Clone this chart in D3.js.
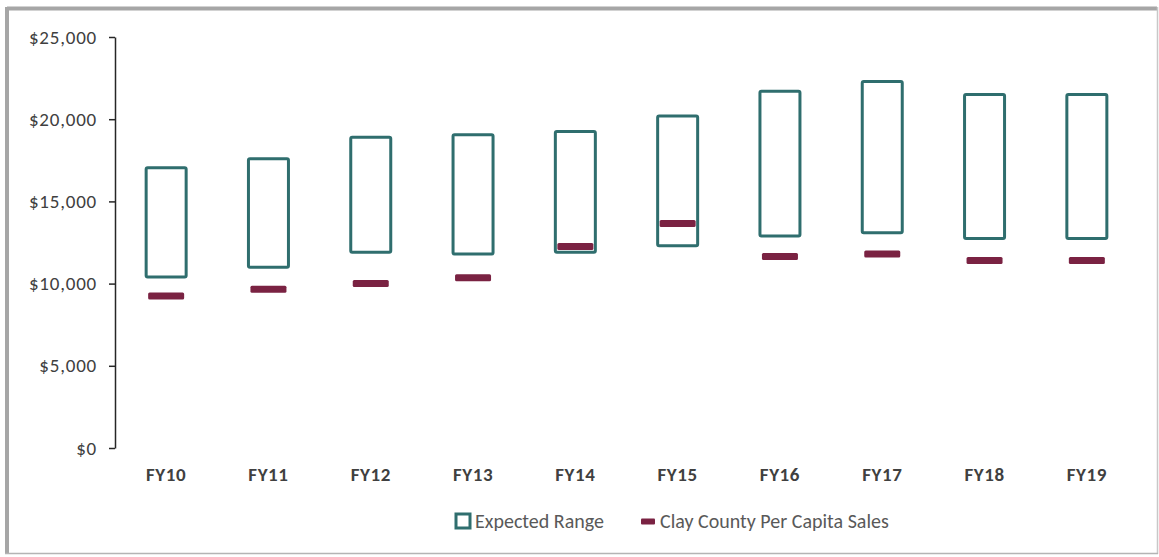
<!DOCTYPE html>
<html>
<head>
<meta charset="utf-8">
<script src="https://cdn.jsdelivr.net/npm/d3@7"></script>
<style>
  html, body { margin: 0; padding: 0; background: #fff; }
  svg { display: block; font-family: Carlito, Lato, "Open Sans", sans-serif; }
</style>
</head>
<body>
<svg id="chart" width="1159" height="557"></svg>
<script>
// ---- data ----
const categories = ["FY10","FY11","FY12","FY13","FY14","FY15","FY16","FY17","FY18","FY19"];
const rangeLow  = [10400, 11000, 11900, 11800, 11900, 12300, 12900, 13100, 12750, 12750];
const rangeHigh = [17050, 17600, 18900, 19050, 19250, 20200, 21700, 22300, 21500, 21500];
const perCapita = [9250, 9650, 10000, 10350, 12250, 13650, 11650, 11800, 11400, 11400];
const yTicks = [0, 5000, 10000, 15000, 20000, 25000];
const seriesNames = ["Expected Range", "Clay County Per Capita Sales"];

const teal = "#2f6e6e", maroon = "#7a2242";
const FONT = "Carlito, Lato, sans-serif";

const svg = d3.select("#chart");
const W = 1159, H = 557;

// frame
svg.append("rect").attr("x", 0).attr("y", 0).attr("width", W).attr("height", H).attr("fill", "#fff");
svg.append("line").attr("x1", 7).attr("x2", 1157).attr("y1", 8.5).attr("y2", 8.5).attr("stroke", "#a6a6a6").attr("stroke-width", 4);
svg.append("line").attr("x1", 7).attr("x2", 7).attr("y1", 7).attr("y2", 554).attr("stroke", "#a6a6a6").attr("stroke-width", 4);
svg.append("line").attr("x1", 1157.5).attr("x2", 1157.5).attr("y1", 7).attr("y2", 554).attr("stroke", "#c8c8c8").attr("stroke-width", 1.5);
svg.append("line").attr("x1", 5).attr("x2", 1158).attr("y1", 553.5).attr("y2", 553.5).attr("stroke", "#b4b4b4").attr("stroke-width", 1.5);

const x = d3.scaleBand().domain(categories).range([115, 1138]).padding(0);
const y = d3.scaleLinear().domain([0, 25000]).range([448, 37]);

// y axis
const fmt = d3.format(",");
const yAxis = d3.axisLeft(y).tickValues(yTicks).tickFormat(d => "$" + fmt(d)).tickSize(6).tickSizeOuter(0).tickPadding(12);
const gy = svg.append("g").attr("transform", "translate(115,0)").call(yAxis);
gy.attr("font-size", null).attr("font-family", null);
gy.select(".domain").attr("stroke", "#262626").attr("stroke-width", 1.5);
gy.selectAll(".tick line").attr("stroke", "#262626").attr("stroke-width", 1.5);
gy.selectAll(".tick text").attr("fill", "#404040").style("font-size", "19px").style("letter-spacing", "0.8px").style("font-family", FONT);

// x axis labels (no axis line)
const xAxis = d3.axisBottom(x).tickSize(0).tickPadding(0);
const gx = svg.append("g").attr("transform", "translate(0,467)").call(xAxis);
gx.attr("font-size", null).attr("font-family", null);
gx.select(".domain").remove();
gx.selectAll(".tick text").attr("fill", "#404040").style("font-size", "19px").style("font-weight", "bold").style("letter-spacing", "0.6px").style("font-family", FONT);

const boxW = 40, dashW = 36, dashH = 7;

// expected range boxes
svg.append("g").selectAll("rect").data(categories).join("rect")
  .attr("x", (d) => x(d) + x.bandwidth() / 2 - boxW / 2)
  .attr("y", (d, i) => y(rangeHigh[i]))
  .attr("width", boxW)
  .attr("height", (d, i) => y(rangeLow[i]) - y(rangeHigh[i]))
  .attr("rx", 1.5)
  .attr("fill", "none")
  .attr("stroke", teal)
  .attr("stroke-width", 3);

// per capita dashes
svg.append("g").selectAll("rect").data(categories).join("rect")
  .attr("x", (d) => x(d) + x.bandwidth() / 2 - dashW / 2)
  .attr("y", (d, i) => y(perCapita[i]) - dashH / 2)
  .attr("width", dashW)
  .attr("height", dashH)
  .attr("rx", 1.5)
  .attr("fill", maroon);

// legend
const lg = svg.append("g").style("font-family", FONT).style("font-size", "20px").attr("fill", "#595959");
lg.append("rect").attr("x", 456).attr("y", 514).attr("width", 14).attr("height", 14).attr("fill", "none").attr("stroke", teal).attr("stroke-width", 3);
lg.append("text").attr("x", 475).attr("y", 528).text(seriesNames[0]);
lg.append("rect").attr("x", 641).attr("y", 518.5).attr("width", 14).attr("height", 6).attr("rx", 1).attr("fill", maroon);
lg.append("text").attr("x", 660).attr("y", 528).text(seriesNames[1]);
</script>
</body>
</html>
